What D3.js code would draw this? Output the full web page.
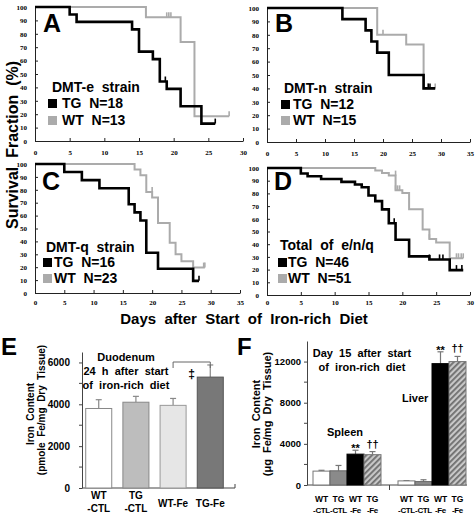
<!DOCTYPE html>
<html><head><meta charset="utf-8">
<script src="https://cdn.jsdelivr.net/npm/d3@7"></script>
<style>
body{margin:0;background:#fff}
svg{display:block}
text{font-family:"Liberation Sans",Arial,sans-serif;white-space:pre}
</style></head><body>
<svg id="c" width="475" height="514"></svg>
<script>
// ---------- DATA ----------
// survival curves: [day, percent]
const aTG = [[0,100],[5,94.4],[6,88.9],[14,83.3],[15,66.7],[17,61.1],[18,44.4],[19,38.9],[21,25.9],[24,13],[26,13]];
const aTGcens = [[18.8,44.4],[26,13]];
const aWT = [[0,100],[16,92.3],[21,73.8],[23,18.5],[28,18.5]];
const aWTcens = [[19,92.3],[19.3,92.3],[19.6,92.3],[28,18.5]];

const bTG = [[0,100],[13,91.7],[17,83.3],[18,75],[19,66.7],[21,50],[27,40],[29,40]];
const bTGcens = [[27.8,40],[28.1,40]];
const bWT = [[0,100],[19,80],[24,72.7],[27,40],[29,40]];
const bWTcens = [[20,80],[29,40]];

const cTG = [[0,100],[5,93.75],[8,87.5],[11,81.25],[16,68.75],[17,62.5],[18,56.25],[19,31.25],[21,18.75],[27,9.4],[28,9.4]];
const cTGcens = [[28,9.4]];
const cWT = [[0,100],[17,95.7],[18,91.3],[19,78.3],[20,74],[21,54.3],[23,39],[24,30],[25,24.6],[27,19.7],[29,19.7]];
const cWTcens = [[20,78.3],[28.8,19.7],[29,19.7]];

const dTG = [[0,100],[5,95.7],[6,93.5],[8,91.3],[11,89.1],[13,87],[14,84.8],[15,78.3],[16,73.9],[17,67.4],[18,56.5],[19,43.5],[21,30.4],[24,28],[27,19.6],[29,19.6]];
const dTGcens = [[18.8,56.5],[24,28],[25.5,28],[26,28],[28,19.6],[28.8,19.6]];
const dWT = [[0,100],[16,98],[17,96],[18,94],[19,82.4],[20,80.4],[21,67.5],[23,51.6],[24,44],[25,41.4],[27,28.9],[29,28.9]];
const dWTcens = [[19,94],[19,82.4],[19.3,82.4],[19.6,82.4],[24,44],[28,28.9],[28.3,28.9],[28.7,28.9],[29,28.9]];

const strainNames = ["DMT-e  strain","DMT-n  strain","DMT-q  strain","Total  of  e/n/q"];
const tgN = [18,12,16,46];
const wtN = [13,15,23,51];
const panelLetters = ["A","B","C","D","E","F"];
const survTicksY = [0,10,20,30,40,50,60,70,80,90,100];

// Panel E
const eCats = ["WT-CTL","TG-CTL","WT-Fe","TG-Fe"];
const eLabels = [["WT","-CTL"],["TG","-CTL"],["WT-Fe"],["TG-Fe"]];
const eVals = [3800,4100,3950,5300];
const eErr = [420,280,330,580];
const eTicks = [0,2000,4000,6000];
const eMinor = [1000,3000,5000];
const eNote = ["Duodenum","24  h  after  start","of  iron-rich  diet"];

// Panel F
const fGroups = ["Spleen","Liver"];
const fCats = ["WT-CTL","TG-CTL","WT-Fe","TG-Fe"];
const fLabels = [["WT","-CTL"],["TG","-CTL"],["WT","-Fe"],["TG","-Fe"]];
const fSpleen = [1350,1380,3000,2950];
const fSpleenErr = [80,520,380,300];
const fLiver = [400,330,11800,12000];
const fLiverErr = [30,180,1150,500];
const fSig = ["","","**","††"];
const fTicks = [0,4000,8000,12000];
const fMinor = [2000,6000,10000];
const fNote = ["Day  15  after  start","of  iron-rich  diet"];

// ---------- DRAW ----------
const svg = d3.select("#c");
const defs = svg.append("defs");
const hatch = defs.append("pattern").attr("id","hatch").attr("patternUnits","userSpaceOnUse")
  .attr("width",4).attr("height",4).attr("patternTransform","rotate(45)");
hatch.append("rect").attr("width",4).attr("height",4).attr("fill","#c8c8c8");
hatch.append("rect").attr("width",1.8).attr("height",4).attr("fill","#6e6e6e");

const GRAY = "#ababab";

function km(p){
  const x = d3.scaleLinear().domain([0,p.xmax]).range([p.x0,p.x1]);
  const y = d3.scaleLinear().domain([0,100]).range([p.y0,p.y1]);
  const g = svg.append("g");
  const xa = g.append("g").attr("transform",`translate(0,${p.y0})`)
    .call(d3.axisBottom(x).tickValues(d3.range(0,p.xmax+1,5)).tickSize(-3).tickSizeOuter(0).tickPadding(p.xpad));
  const ya = g.append("g").attr("transform",`translate(${p.x0},0)`)
    .call(d3.axisLeft(y).tickValues(survTicksY).tickSize(-3).tickSizeOuter(0).tickPadding(8));
  [xa,ya].forEach(a=>{
    a.selectAll("text").style("font-family","'Liberation Serif',serif").style("font-size","7px").style("font-weight","bold").attr("fill","#000");
    a.selectAll("path,line").attr("stroke","#222").attr("stroke-width",1);
  });
  const line = d3.line().x(d=>x(d[0])).y(d=>y(d[1])).curve(d3.curveStepAfter);
  g.append("path").datum(p.wt).attr("d",line).attr("fill","none").attr("stroke",GRAY).attr("stroke-width",2);
  g.selectAll(".cw").data(p.wtc).join("line").attr("x1",d=>x(d[0])).attr("x2",d=>x(d[0]))
    .attr("y1",d=>y(d[1])).attr("y2",d=>y(d[1])-5).attr("stroke",GRAY).attr("stroke-width",1.6);
  g.append("path").datum(p.tg).attr("d",line).attr("fill","none").attr("stroke","#000").attr("stroke-width",2.6);
  g.selectAll(".ct").data(p.tgc).join("line").attr("x1",d=>x(d[0])).attr("x2",d=>x(d[0]))
    .attr("y1",d=>y(d[1])).attr("y2",d=>y(d[1])-5).attr("stroke","#000").attr("stroke-width",1.6);
  g.append("text").attr("x",p.lx).attr("y",p.ly).text(panelLetters[p.i])
    .style("font-size","25px").style("font-weight","bold");
  g.append("text").attr("x",p.tx).attr("y",p.ty[0]).text(strainNames[p.i]).style("font-size","14px").style("font-weight","bold");
  g.append("rect").attr("x",p.sx).attr("y",p.ty[1]-9).attr("width",9).attr("height",9).attr("fill","#000");
  g.append("text").attr("x",p.gx).attr("y",p.ty[1]).text("TG  N="+tgN[p.i]).style("font-size","14px").style("font-weight","bold");
  g.append("rect").attr("x",p.sx).attr("y",p.ty[2]-9).attr("width",9).attr("height",9).attr("fill",GRAY);
  g.append("text").attr("x",p.gx).attr("y",p.ty[2]).text("WT  N="+wtN[p.i]).style("font-size","14px").style("font-weight","bold");
}

km({i:0,xmax:30,x0:35,x1:243,y0:141,y1:7,xpad:9,tg:aTG,tgc:aTGcens,wt:aWT,wtc:aWTcens,lx:43,ly:32,tx:52,ty:[92,108,125],sx:48,gx:62});
km({i:1,xmax:35,x0:267,x1:470,y0:142,y1:8,xpad:9,tg:bTG,tgc:bTGcens,wt:bWT,wtc:bWTcens,lx:275,ly:32,tx:284,ty:[93,109,125],sx:281,gx:293});
km({i:2,xmax:35,x0:35,x1:240,y0:293,y1:164,xpad:7,tg:cTG,tgc:cTGcens,wt:cWT,wtc:cWTcens,lx:42,ly:190,tx:46,ty:[252,267,283],sx:43,gx:54});
km({i:3,xmax:30,x0:267,x1:470,y0:295,y1:168,xpad:5,tg:dTG,tgc:dTGcens,wt:dWT,wtc:dWTcens,lx:274,ly:190,tx:280,ty:[250,267,283],sx:278,gx:288});

svg.append("text").attr("transform","translate(18,145) rotate(-90)").attr("text-anchor","middle")
  .text("Survival  Fraction  (%)").style("font-size","16px").style("font-weight","bold");
svg.append("text").attr("x",244).attr("y",324).attr("text-anchor","middle")
  .text("Days  after  Start  of  Iron-rich  Diet").style("font-size","15px").style("font-weight","bold");

function styleAxis(a,fs){
  a.selectAll("text").style("font-size",fs).style("font-weight","bold").attr("fill","#000");
  a.selectAll("path,line").attr("stroke","#444").attr("stroke-width",1);
}

// ---------- Panel E ----------
(function(){
  const x = d3.scaleBand().domain(eCats).range([82,227]).paddingInner(0.3).paddingOuter(0.1);
  const y = d3.scaleLinear().domain([0,6500]).range([488,352]);
  const g = svg.append("g");
  const ya = g.append("g").attr("transform","translate(82,0)")
    .call(d3.axisLeft(y).tickValues(eTicks).tickFormat(d3.format("d")).tickSize(3).tickSizeOuter(0).tickPadding(9));
  styleAxis(ya,"10px");
  g.selectAll(".mn").data(eMinor).join("line").attr("x1",79).attr("x2",82).attr("y1",d=>y(d)).attr("y2",d=>y(d)).attr("stroke","#444");
  g.append("line").attr("x1",82).attr("x2",235).attr("y1",488).attr("y2",488).attr("stroke","#444");
  g.append("line").attr("x1",235).attr("x2",235).attr("y1",488).attr("y2",484).attr("stroke","#444");
  const fills = ["#ffffff","#bdbdbd","#e6e6e6","#787878"];
  const strokes = ["#888","#888","#999","#555"];
  g.selectAll(".err").data(eCats).join("line")
    .attr("x1",d=>x(d)+x.bandwidth()/2).attr("x2",d=>x(d)+x.bandwidth()/2)
    .attr("y1",(d,i)=>y(eVals[i])).attr("y2",(d,i)=>y(eVals[i]+eErr[i])).attr("stroke","#888").attr("stroke-width",1.2);
  g.selectAll(".cap").data(eCats).join("line")
    .attr("x1",d=>x(d)+x.bandwidth()/2-3).attr("x2",d=>x(d)+x.bandwidth()/2+3)
    .attr("y1",(d,i)=>y(eVals[i]+eErr[i])).attr("y2",(d,i)=>y(eVals[i]+eErr[i])).attr("stroke","#888").attr("stroke-width",1.2);
  g.selectAll(".bar").data(eCats).join("rect")
    .attr("x",d=>x(d)).attr("width",x.bandwidth())
    .attr("y",(d,i)=>y(eVals[i])).attr("height",(d,i)=>488-y(eVals[i]))
    .attr("fill",(d,i)=>fills[i]).attr("stroke",(d,i)=>strokes[i]).attr("stroke-width",1);
  eLabels.forEach((lab,i)=>{
    const cx = x(eCats[i])+x.bandwidth()/2;
    if(lab.length===2){
      g.append("text").attr("x",cx).attr("y",499).attr("text-anchor","middle").text(lab[0]).style("font-size","10px").style("font-weight","bold");
      g.append("text").attr("x",cx).attr("y",512).attr("text-anchor","middle").text(lab[1]).style("font-size","10px").style("font-weight","bold");
    } else {
      g.append("text").attr("x",cx).attr("y",507).attr("text-anchor","middle").text(lab[0]).style("font-size","10px").style("font-weight","bold");
    }
  });
  const bx1 = x("WT-Fe")+x.bandwidth()/2, bx2 = x("TG-Fe")+x.bandwidth()/2;
  g.append("path").attr("d",`M${bx1},368V362H${bx2}V368`).attr("fill","none").attr("stroke","#666").attr("stroke-width",1);
  g.append("text").attr("x",(bx1+bx2)/2).attr("y",378).attr("text-anchor","middle").text("‡").style("font-size","12px").style("font-weight","bold");
  eNote.forEach((t,i)=>g.append("text").attr("x",126).attr("y",361+i*14).attr("text-anchor","middle").text(t).style("font-size","11px").style("font-weight","bold"));
  g.append("text").attr("x",1).attr("y",355).text(panelLetters[4]).style("font-size","24px").style("font-weight","bold");
  g.append("text").attr("transform","translate(34,414) rotate(-90)").attr("text-anchor","middle").text("Iron  Content").style("font-size","10px").style("font-weight","bold");
  g.append("text").attr("transform","translate(45,410) rotate(-90)").attr("text-anchor","middle").text("(pmole  Fe/mg  Dry  Tissue)").style("font-size","10px").style("font-weight","bold");
})();

// ---------- Panel F ----------
(function(){
  const x0 = d3.scaleBand().domain(fGroups).range([313,466]).paddingInner(0.2).paddingOuter(0);
  const x1 = d3.scaleBand().domain(fCats).range([0,x0.bandwidth()]).padding(0);
  const y = d3.scaleLinear().domain([0,14000]).range([485,341]);
  const g = svg.append("g");
  const ya = g.append("g").attr("transform","translate(307,0)")
    .call(d3.axisLeft(y).tickValues(fTicks).tickFormat(d3.format("d")).tickSize(3).tickSizeOuter(0).tickPadding(3));
  styleAxis(ya,"9.5px");
  g.selectAll(".mn").data(fMinor).join("line").attr("x1",304).attr("x2",307).attr("y1",d=>y(d)).attr("y2",d=>y(d)).attr("stroke","#444");
  g.append("line").attr("x1",307).attr("x2",467).attr("y1",485).attr("y2",485).attr("stroke","#444");
  const sepX = (x0("Spleen")+x0.bandwidth()+x0("Liver"))/2;
  g.append("line").attr("x1",sepX).attr("x2",sepX).attr("y1",485).attr("y2",490).attr("stroke","#444");
  const fills = ["#ffffff","#8a8a8a","#000000","url(#hatch)"];
  const strokes = ["#777","#666","#000","#777"];
  const sigOff = {"**":2,"††":-4};
  const sets = [fSpleen,fLiver], errs=[fSpleenErr,fLiverErr];
  fGroups.forEach((grp,gi)=>{
    const vals = sets[gi], er = errs[gi];
    fCats.forEach((c,i)=>{
      const bx = x0(grp)+x1(c), cx = bx+x1.bandwidth()/2;
      g.append("line").attr("x1",cx).attr("x2",cx).attr("y1",y(vals[i])).attr("y2",y(vals[i]+er[i])).attr("stroke","#777").attr("stroke-width",1.2);
      g.append("line").attr("x1",cx-3).attr("x2",cx+3).attr("y1",y(vals[i]+er[i])).attr("y2",y(vals[i]+er[i])).attr("stroke","#777").attr("stroke-width",1.2);
      g.append("rect").attr("x",bx).attr("width",x1.bandwidth()).attr("y",y(vals[i])).attr("height",485-y(vals[i]))
        .attr("fill",fills[i]).attr("stroke",strokes[i]).attr("stroke-width",1);
      if(fSig[i]) g.append("text").attr("x",cx).attr("y",y(vals[i]+er[i])+sigOff[fSig[i]]).attr("text-anchor","middle").text(fSig[i]).style("font-size","11px").style("font-weight","bold");
      g.append("text").attr("x",cx).attr("y",502).attr("text-anchor","middle").text(fLabels[i][0]).style("font-size","8.5px").style("font-weight","bold");
      g.append("text").attr("x",cx).attr("y",513).attr("text-anchor","middle").text(fLabels[i][1]).style("font-size","8px").style("font-weight","bold").style("letter-spacing","-0.35px");
    });
  });
  fNote.forEach((t,i)=>g.append("text").attr("x",362).attr("y",357+i*14).attr("text-anchor","middle").text(t).style("font-size","11px").style("font-weight","bold"));
  g.append("text").attr("x",402).attr("y",402).text(fGroups[1]).style("font-size","11px").style("font-weight","bold");
  g.append("text").attr("x",327).attr("y",436).text(fGroups[0]).style("font-size","11px").style("font-weight","bold");
  g.append("text").attr("x",237).attr("y",355).text(panelLetters[5]).style("font-size","24px").style("font-weight","bold");
  g.append("text").attr("transform","translate(260,414) rotate(-90)").attr("text-anchor","middle").text("Iron  Content").style("font-size","11px").style("font-weight","bold");
  g.append("text").attr("transform","translate(271,414) rotate(-90)").attr("text-anchor","middle").text("(μg  Fe/mg  Dry  Tissue)").style("font-size","11px").style("font-weight","bold");
})();
</script>
</body></html>
